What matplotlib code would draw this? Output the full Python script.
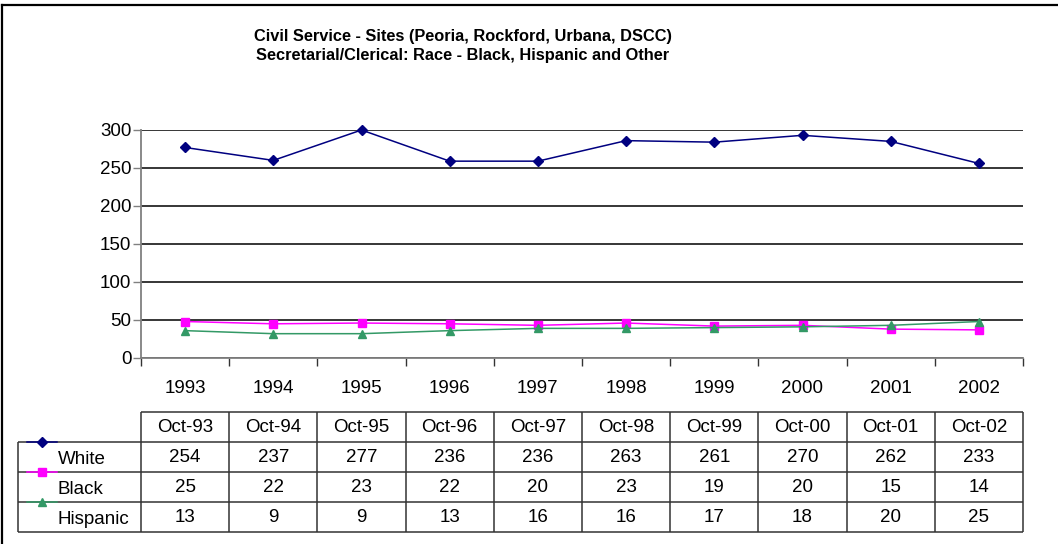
import matplotlib
matplotlib.use('Agg')
import matplotlib.pyplot as plt
import numpy as np
from matplotlib.lines import Line2D

plt.rcParams['font.family'] = ['Liberation Sans', 'DejaVu Sans']

years = ['1993', '1994', '1995', '1996', '1997', '1998', '1999', '2000', '2001', '2002']
months = ['Oct-93', 'Oct-94', 'Oct-95', 'Oct-96', 'Oct-97', 'Oct-98', 'Oct-99', 'Oct-00', 'Oct-01', 'Oct-02']
series = ['White', 'Black', 'Hispanic']

# values as drawn by the lines
white_line = [277, 260, 300, 259, 259, 286, 284, 293, 285, 256]
black_line = [48, 45, 46, 45, 43, 46, 42, 43, 38, 37]
hispanic_line = [36, 32, 32, 36, 39, 39, 40, 41, 43, 48]

# values printed in the data table
white_tab = [254, 237, 277, 236, 236, 263, 261, 270, 262, 233]
black_tab = [25, 22, 23, 22, 20, 23, 19, 20, 15, 14]
hispanic_tab = [13, 9, 9, 13, 16, 16, 17, 18, 20, 25]

colors = ['#000080', '#FF00FF', '#339966']
markers = ['D', 's', '^']
msizes = [5, 5.5, 6]

title = ('Civil Service - Sites (Peoria, Rockford, Urbana, DSCC)\n'
         'Secretarial/Clerical: Race - Black, Hispanic and Other')

W, H = 1058, 544
fig = plt.figure(figsize=(W / 100, H / 100), dpi=100)


def px(l, t, r, b):
    return [l / W, 1 - b / H, (r - l) / W, (b - t) / H]


# ---- line chart ----
ax = fig.add_axes(px(141, 130, 1023, 358))
x = np.arange(len(years)) + 0.5
lines = [white_line, black_line, hispanic_line]
for vals, c, m, ms, name in zip(lines, colors, markers, msizes, series):
    ax.plot(x, vals, color=c, marker=m, markersize=ms, lw=1.1, label=name,
            clip_on=False, zorder=3)

ax.set_xlim(0, len(years))
ax.set_ylim(0, 300)
ax.set_yticks(range(0, 301, 50))
ax.grid(axis='y', color='black', lw=1.1)
ax.set_axisbelow(True)
for s in ['top', 'right']:
    ax.spines[s].set_visible(False)
for s in ['left', 'bottom']:
    ax.spines[s].set_color('#808080')
    ax.spines[s].set_linewidth(1.3)
ax.set_xticks(range(0, len(years) + 1))
ax.set_xticklabels([])
ax.set_xticks(x, minor=True)
ax.set_xticklabels(years, minor=True)
ax.tick_params(axis='x', which='major', length=6, width=1, color='#333333')
ax.tick_params(axis='x', which='minor', length=0, pad=16, labelsize=13.5)
ax.tick_params(axis='y', length=6, width=1, color='#808080', pad=1, labelsize=13.5)

# ---- data table ----
tab = fig.add_axes(px(18, 412, 1023, 532))
xl = -123 / 88.2
n = len(years)
tab.set_xlim(xl, n)
tab.set_ylim(4, 0)
tab.axis('off')
lc = '#333333'
tab.hlines(0, 0, n, color=lc, lw=1.1, clip_on=False)
tab.hlines([1, 2, 3, 4], xl, n, color=lc, lw=1.1, clip_on=False)
tab.vlines(range(0, n + 1), 0, 4, color=lc, lw=1.1, clip_on=False)
tab.vlines(xl, 1, 4, color=lc, lw=1.1, clip_on=False)

for i, mth in enumerate(months):
    tab.text(i + 0.5, 0.52, mth, ha='center', va='center', fontsize=13.5)

table_rows = [white_tab, black_tab, hispanic_tab]
for r, (vals, name, c, m, ms) in enumerate(zip(table_rows, series, colors, markers, msizes)):
    for i, v in enumerate(vals):
        tab.text(i + 0.5, r + 1.52, str(v), ha='center', va='center', fontsize=13.5)
    tab.text(xl + 40 / 88.2, r + 1.58, name, ha='left', va='center', fontsize=13.5)
    seg = [xl + 9 / 88.2, xl + 39 / 88.2]
    tab.plot(seg, [r + 1, r + 1], color=c, lw=1.1, clip_on=False)
    tab.plot([np.mean(seg)], [r + 1], color=c, marker=m, markersize=ms, clip_on=False)

# ---- title and frame ----
fig.text(463 / W, 1 - 46 / H, title, ha='center', va='center', fontweight='bold',
         fontsize=11.8, linespacing=1.3)
fig.add_artist(Line2D([2 / W, 2 / W], [0, 1 - 5 / H], color='black', lw=1.6))
fig.add_artist(Line2D([2 / W, 1], [1 - 5 / H, 1 - 5 / H], color='black', lw=1.6))

fig.savefig('out.png', dpi=100)
